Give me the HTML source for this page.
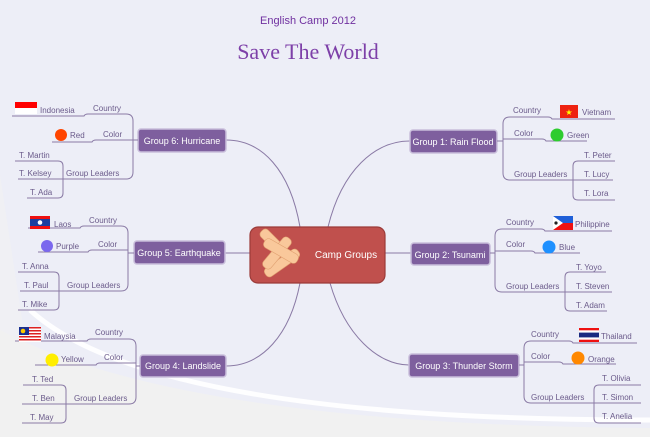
<!DOCTYPE html>
<html><head><meta charset="utf-8"><style>
html,body{margin:0;padding:0;width:650px;height:437px;overflow:hidden;background:#edeef7}
svg{display:block}
text{font-family:"Liberation Sans","DejaVu Sans",sans-serif;fill:#6a5a8a;font-size:8px}
.g{fill:#fff;font-size:9px}
.l{fill:none;stroke:#8a7aa5;stroke-width:1}
.box{fill:#7e5f9e;stroke:#c9bedb;stroke-width:1.5}
</style></head><body>
<svg width="650" height="437" viewBox="0 0 650 437" xmlns="http://www.w3.org/2000/svg">
<path d="M0,330 Q180,425 650,428 L650,437 L0,437Z" fill="#f1f1f1"/>
<path d="M0,175 L0,437 L40,437Z" fill="#f1f1f1" opacity="0.6"/>
<path d="M30,310 Q150,420 650,420" fill="none" stroke="#ffffff" stroke-width="5" opacity="0.9"/>

<text x="308" y="24" text-anchor="middle" style="font-size:11px;fill:#7030a0">English Camp 2012</text>
<text x="308" y="59" text-anchor="middle" style="font-size:22px;fill:#7d3fa8;font-family:'Liberation Serif',serif">Save The World</text>

<!-- main connectors -->
<g class="l" style="stroke:#8a7aa5">
<path d="M300,227 C290,170 262,140 226,140"/>
<path d="M328,227 C342,170 375,141 410,141"/>
<path d="M300,283 C290,335 262,366 226,366"/>
<path d="M330,283 C345,335 378,365 409,365"/>
<path d="M250,253 L225,253"/>
<path d="M385,253 L411,253"/>
</g>

<!-- center -->
<rect x="250" y="227" width="135" height="56" rx="8" fill="#c0504d" stroke="#9b3b39" stroke-width="1.2"/>
<g fill="#f9c89b" stroke="#e0a070" stroke-width="0.6">
<rect x="256" y="240" width="40" height="10" rx="4" transform="rotate(45 276 245)"/>
<rect x="262" y="258" width="40" height="10" rx="4" transform="rotate(-35 282 263)"/>
<rect x="258" y="248" width="38" height="10" rx="4" transform="rotate(-50 277 253)"/>
<rect x="262" y="246" width="38" height="10" rx="4" transform="rotate(30 281 251)"/>
</g>
<text x="346" y="258" text-anchor="middle" class="g" style="font-size:10px">Camp Groups</text>

<!-- boxes -->
<rect class="box" x="138" y="129" width="88" height="23" rx="3"/><text class="g" x="182" y="144" text-anchor="middle">Group 6: Hurricane</text>
<rect class="box" x="134" y="241" width="91" height="23" rx="3"/><text class="g" x="179" y="256" text-anchor="middle">Group 5: Earthquake</text>
<rect class="box" x="140" y="355" width="86" height="22" rx="3"/><text class="g" x="183" y="369" text-anchor="middle">Group 4: Landslide</text>
<rect class="box" x="410" y="130" width="87" height="23" rx="3"/><text class="g" x="453" y="145" text-anchor="middle">Group 1: Rain Flood</text>
<rect class="box" x="411" y="243" width="79" height="22" rx="3"/><text class="g" x="450" y="258" text-anchor="middle">Group 2: Tsunami</text>
<rect class="box" x="409" y="354" width="110" height="23" rx="3"/><text class="g" x="464" y="369" text-anchor="middle">Group 3: Thunder Storm</text>

<!-- Group 6 -->
<g class="l">
<path d="M133,140 L138,140"/>
<path d="M126,114 Q133,114 133,121 L133,172 Q133,179 126,179 L18,179"/>
<path d="M126,114 L88,114 Q85,114 84,116 L12,116"/>
<path d="M133,140 L96,140 Q93,140 92,142 L52,142"/>
<path d="M15,161 L58,161 Q63,161 63,166 L63,193 Q63,198 58,198 L27,198"/>
</g>
<rect x="15" y="102" width="22" height="6" fill="#f00"/><rect x="15" y="108" width="22" height="6" fill="#fff"/>
<text x="40" y="113">Indonesia</text><text x="93" y="111">Country</text>
<circle cx="61" cy="135" r="6" fill="#ff4500"/><text x="70" y="138">Red</text><text x="103" y="137">Color</text>
<text x="66" y="176">Group Leaders</text>
<text x="19" y="158">T. Martin</text><text x="19" y="176">T. Kelsey</text><text x="30" y="195">T. Ada</text>

<!-- Group 5 -->
<g class="l">
<path d="M128,253 L134,253"/>
<path d="M121,226 Q128,226 128,233 L128,284 Q128,291 121,291 L20,291"/>
<path d="M121,226 L84,226 Q81,226 80,228 L28,228"/>
<path d="M128,250 L92,250 Q89,250 88,252 L38,252"/>
<path d="M18,272 L54,272 Q59,272 59,277 L59,305 Q59,310 54,310 L18,310"/>
</g>
<rect x="30" y="216" width="20" height="3" fill="#e11"/><rect x="30" y="219" width="20" height="7" fill="#1a3fa0"/><rect x="30" y="226" width="20" height="3" fill="#e11"/><circle cx="40" cy="222.5" r="2.3" fill="#fff"/>
<text x="54" y="227">Laos</text><text x="89" y="223">Country</text>
<circle cx="47" cy="246" r="6" fill="#7b68ee"/><text x="56" y="249">Purple</text><text x="98" y="247">Color</text>
<text x="67" y="288">Group Leaders</text>
<text x="22" y="269">T. Anna</text><text x="24" y="288">T. Paul</text><text x="22" y="307">T. Mike</text>

<!-- Group 4 -->
<g class="l">
<path d="M136,366 L140,366"/>
<path d="M129,339 Q136,339 136,346 L136,397 Q136,404 129,404 L22,404"/>
<path d="M129,339 L91,339 Q88,339 87,341 L15,341"/>
<path d="M136,363 L100,363 Q97,363 96,365 L35,365"/>
<path d="M23,385 L61,385 Q66,385 66,390 L66,418 Q66,423 61,423 L22,423"/>
</g>
<rect x="19" y="327" width="22" height="15" fill="#fff"/>
<g fill="#d22"><rect x="19" y="327" width="22" height="1.5"/><rect x="19" y="330" width="22" height="1.5"/><rect x="19" y="333" width="22" height="1.5"/><rect x="19" y="336" width="22" height="1.5"/><rect x="19" y="339" width="22" height="1.5"/></g>
<rect x="19" y="327" width="10" height="8" fill="#1a3090"/><circle cx="23" cy="331" r="2.3" fill="#fc0"/>
<text x="44" y="339">Malaysia</text><text x="95" y="335">Country</text>
<circle cx="52" cy="360" r="6.5" fill="#ffee00"/><text x="61" y="362">Yellow</text><text x="104" y="360">Color</text>
<text x="74" y="401">Group Leaders</text>
<text x="32" y="382">T. Ted</text><text x="32" y="401">T. Ben</text><text x="30" y="420">T. May</text>

<!-- Group 1 -->
<g class="l">
<path d="M497,141 L503,141"/>
<path d="M510,117 Q503,117 503,124 L503,173 Q503,180 510,180 L573,180"/>
<path d="M510,117 L548,117 Q551,117 552,119 L615,119"/>
<path d="M503,139 L542,139 Q545,139 546,141 L587,141"/>
<path d="M615,161 L578,161 Q573,161 573,166 L573,195 Q573,200 578,200 L615,200 M573,180 L613,180"/>
</g>
<rect x="560" y="105" width="18" height="13" fill="#e21"/><text x="569" y="115" text-anchor="middle" style="fill:#ff0;font-size:8px">★</text>
<text x="582" y="115">Vietnam</text><text x="513" y="113">Country</text>
<circle cx="557" cy="135" r="6.5" fill="#2ecc2e"/><text x="567" y="138">Green</text><text x="514" y="136">Color</text>
<text x="514" y="177">Group Leaders</text>
<text x="584" y="158">T. Peter</text><text x="584" y="177">T. Lucy</text><text x="584" y="196">T. Lora</text>

<!-- Group 2 -->
<g class="l">
<path d="M490,253 L495,253"/>
<path d="M502,229 Q495,229 495,236 L495,285 Q495,292 502,292 L565,292"/>
<path d="M502,229 L541,229 Q544,229 545,231 L612,231"/>
<path d="M495,251 L531,251 Q534,251 535,253 L580,253"/>
<path d="M606,272 L570,272 Q565,272 565,277 L565,306 Q565,311 570,311 L607,311 M565,292 L612,292"/>
</g>
<rect x="553" y="216" width="20" height="7" fill="#1f5fd8"/><rect x="553" y="223" width="20" height="7" fill="#e11"/><path d="M553,216 L563,223 L553,230Z" fill="#fff"/><circle cx="556" cy="223" r="1.6" fill="#222"/>
<text x="575" y="227">Philippine</text><text x="506" y="225">Country</text>
<circle cx="549" cy="247" r="6.5" fill="#1e90ff"/><text x="559" y="250">Blue</text><text x="506" y="247">Color</text>
<text x="506" y="289">Group Leaders</text>
<text x="576" y="270">T. Yoyo</text><text x="576" y="289">T. Steven</text><text x="576" y="308">T. Adam</text>

<!-- Group 3 -->
<g class="l">
<path d="M519,365 L524,365"/>
<path d="M531,341 Q524,341 524,348 L524,396 Q524,403 531,403 L594,403"/>
<path d="M531,341 L569,341 Q572,341 573,343 L637,343"/>
<path d="M524,362 L559,362 Q562,362 563,364 L616,364"/>
<path d="M641,385 L599,385 Q594,385 594,390 L594,418 Q594,423 599,423 L641,423 M594,403 L641,403"/>
</g>
<rect x="579" y="328" width="20" height="14" fill="#fff"/><rect x="579" y="328" width="20" height="2.3" fill="#e11"/><rect x="579" y="332.6" width="20" height="4.8" fill="#1a2a80"/><rect x="579" y="339.7" width="20" height="2.3" fill="#e11"/>
<text x="601" y="339">Thailand</text><text x="531" y="337">Country</text>
<circle cx="578" cy="358" r="6.5" fill="#ff8800"/><text x="588" y="362">Orange</text><text x="531" y="359">Color</text>
<text x="531" y="400">Group Leaders</text>
<text x="602" y="381">T. Olivia</text><text x="602" y="400">T. Simon</text><text x="602" y="419">T. Anelia</text>
</svg>
</body></html>
